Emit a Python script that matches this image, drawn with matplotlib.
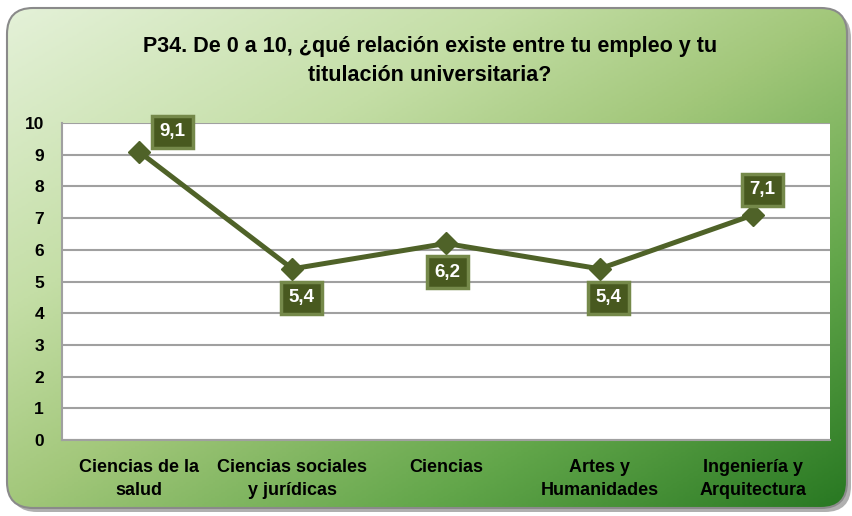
import numpy as np
import matplotlib
matplotlib.use('Agg')
import matplotlib.pyplot as plt
from matplotlib.patches import FancyBboxPatch
from matplotlib.colors import LinearSegmentedColormap

plt.rcParams['font.family'] = ['Liberation Sans', 'DejaVu Sans']
plt.rcParams['font.weight'] = 'bold'

categories = ['Ciencias de la\nsalud', 'Ciencias sociales\ny jurídicas', 'Ciencias',
              'Artes y\nHumanidades', 'Ingeniería y\nArquitectura']
values = [9.1, 5.4, 6.2, 5.4, 7.1]
value_labels = ['9,1', '5,4', '6,2', '5,4', '7,1']
# label offsets in pixels (dx, dy) from each point
label_offsets = [(34, 20), (9, -29), (1, -29), (9, -29), (9, 25)]
title = 'P34. De 0 a 10, ¿qué relación existe entre tu empleo y tu\ntitulación universitaria?'

W, H = 853, 516
fig = plt.figure(figsize=(W / 100, H / 100), dpi=100)
fig.patch.set_facecolor('white')

# background panel with diagonal green gradient
bg = fig.add_axes([0, 0, 1, 1])
bg.set_xlim(0, W)
bg.set_ylim(H, 0)
bg.axis('off')
xx, yy = np.meshgrid(np.linspace(0, 1, 400), np.linspace(0, 1, 250))
t = (xx * 0.5 + yy * 0.5)
cmap = LinearSegmentedColormap.from_list('panel', [
    (0.0, '#e4f1d8'), (0.3, '#c4dea6'), (0.5, '#a2c77a'),
    (0.75, '#62a64a'), (1.0, '#287822')])
shadow = FancyBboxPatch((11, 12), 840, 500, boxstyle='round,pad=0,rounding_size=26',
                        facecolor='#b0b0b0', edgecolor='none', zorder=0)
bg.add_patch(shadow)
panel = FancyBboxPatch((7, 8), 840, 500, boxstyle='round,pad=0,rounding_size=26',
                       facecolor='none', edgecolor='#8a8a8a', linewidth=1.5, zorder=2)
bg.add_patch(panel)
im = bg.imshow(t, cmap=cmap, extent=(7, 847, 508, 8), aspect='auto', zorder=1)
im.set_clip_path(panel)

fig.text(430 / W, 1 - 61 / H, title, ha='center', va='center', fontsize=15.5,
         fontweight='bold', linespacing=1.45)

ax = fig.add_axes([62 / W, 1 - 440 / H, 768 / W, 317 / H])
ax.set_facecolor('white')
x = np.arange(len(categories))
ax.set_xlim(-0.5, len(categories) - 0.5)
ax.set_ylim(0, 10)
ax.set_yticks(range(0, 11))
ax.yaxis.grid(True, color='#a0a0a0', linewidth=1.5)
ax.set_axisbelow(True)
for s in ax.spines.values():
    s.set_color('#a0a0a0')
    s.set_linewidth(1.5)
ax.spines['top'].set_visible(False)
ax.spines['right'].set_visible(False)
ax.tick_params(axis='both', length=0, labelsize=12.5)
ax.tick_params(axis='y', pad=13)
ax.tick_params(axis='x', pad=14, labelsize=13)
ax.set_xticks(x)
ax.set_xticklabels(categories, linespacing=1.4)

line_color = '#4f6228'
ax.plot(x, values, color=line_color, linewidth=3.6, marker='D', markersize=11,
        zorder=3, clip_on=False)

for xi, v, lab, (dx, dy) in zip(x, values, value_labels, label_offsets):
    ax.annotate(lab, (xi, v), xytext=(dx * 0.72, dy * 0.72), textcoords='offset points',
                ha='center', va='center', color='white', fontsize=13.5, fontweight='bold',
                zorder=5,
                bbox=dict(boxstyle='square,pad=0.4', facecolor='#48591f',
                          edgecolor='#75894a', linewidth=2.5))

fig.savefig('out.png', dpi=100)
